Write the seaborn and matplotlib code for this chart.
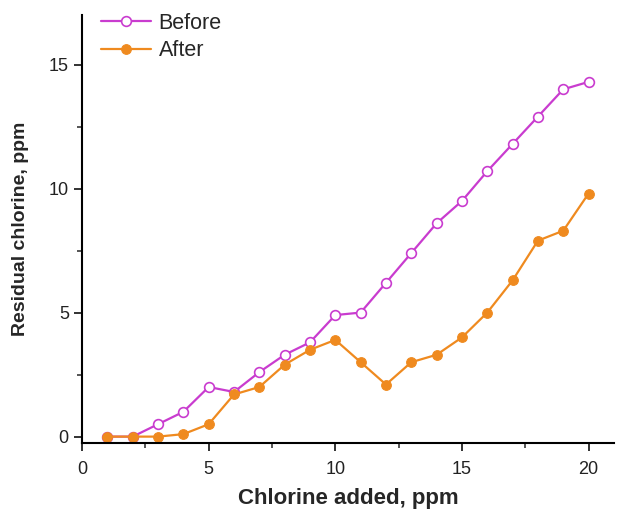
import matplotlib
matplotlib.use('Agg')
from matplotlib import pyplot as plt
from matplotlib.ticker import MultipleLocator
import seaborn as sns

# chlorine dose (ppm) and measured residual chlorine (ppm)
chlorine_added = [1, 2, 3, 4, 5, 6, 7, 8, 9, 10, 11, 12, 13, 14, 15, 16, 17, 18, 19, 20]
before = [0.0, 0.0, 0.5, 1.0, 2.0, 1.8, 2.6, 3.3, 3.8, 4.9, 5.0, 6.2, 7.4, 8.6, 9.5, 10.7, 11.8, 12.9, 14.0, 14.3]
after = [0.0, 0.0, 0.0, 0.1, 0.5, 1.7, 2.0, 2.9, 3.5, 3.9, 3.0, 2.1, 3.0, 3.3, 4.0, 5.0, 6.3, 7.9, 8.3, 9.8]

sns.set_style('ticks')
plt.rcParams['font.family'] = ['Liberation Sans', 'DejaVu Sans']

fig = plt.figure(figsize=(6.17, 5.14), dpi=100)
ax = fig.add_axes([0.133, 0.138, 0.862, 0.833])

sns.lineplot(x=chlorine_added, y=before, ax=ax, color='#c93ccf', lw=1.6,
             marker='o', markersize=7, markerfacecolor='white',
             markeredgecolor='#c93ccf', markeredgewidth=1.2, label='Before')
sns.lineplot(x=chlorine_added, y=after, ax=ax, color='#ef8a1f', lw=1.6,
             marker='o', markersize=7, markerfacecolor='#ef8a1f',
             markeredgecolor='#ef8a1f', label='After')

ax.set_xlim(0, 21)
ax.set_ylim(-0.26, 17)
ax.xaxis.set_major_locator(MultipleLocator(5))
ax.xaxis.set_minor_locator(MultipleLocator(2.5))
ax.yaxis.set_major_locator(MultipleLocator(5))
ax.yaxis.set_minor_locator(MultipleLocator(2.5))
ax.tick_params(which='major', length=6, width=1.3, labelsize=13, colors='#222222')
ax.tick_params(axis='x', which='major', pad=7)
ax.tick_params(which='minor', length=3.5, width=1.1)
for s in ['left', 'bottom']:
    ax.spines[s].set_linewidth(1.5)
    ax.spines[s].set_color('black')
sns.despine(ax=ax)

ax.set_xlabel('Chlorine added, ppm', fontsize=16, fontweight='bold', labelpad=7)
ax.set_ylabel('Residual chlorine, ppm', fontsize=14, fontweight='bold', labelpad=14)

ax.legend(loc='upper left', bbox_to_anchor=(0.0, 1.05), frameon=False,
          fontsize=15.5, handlelength=2.3, handletextpad=0.35, labelspacing=0.3)

fig.savefig('out.png', dpi=100)
